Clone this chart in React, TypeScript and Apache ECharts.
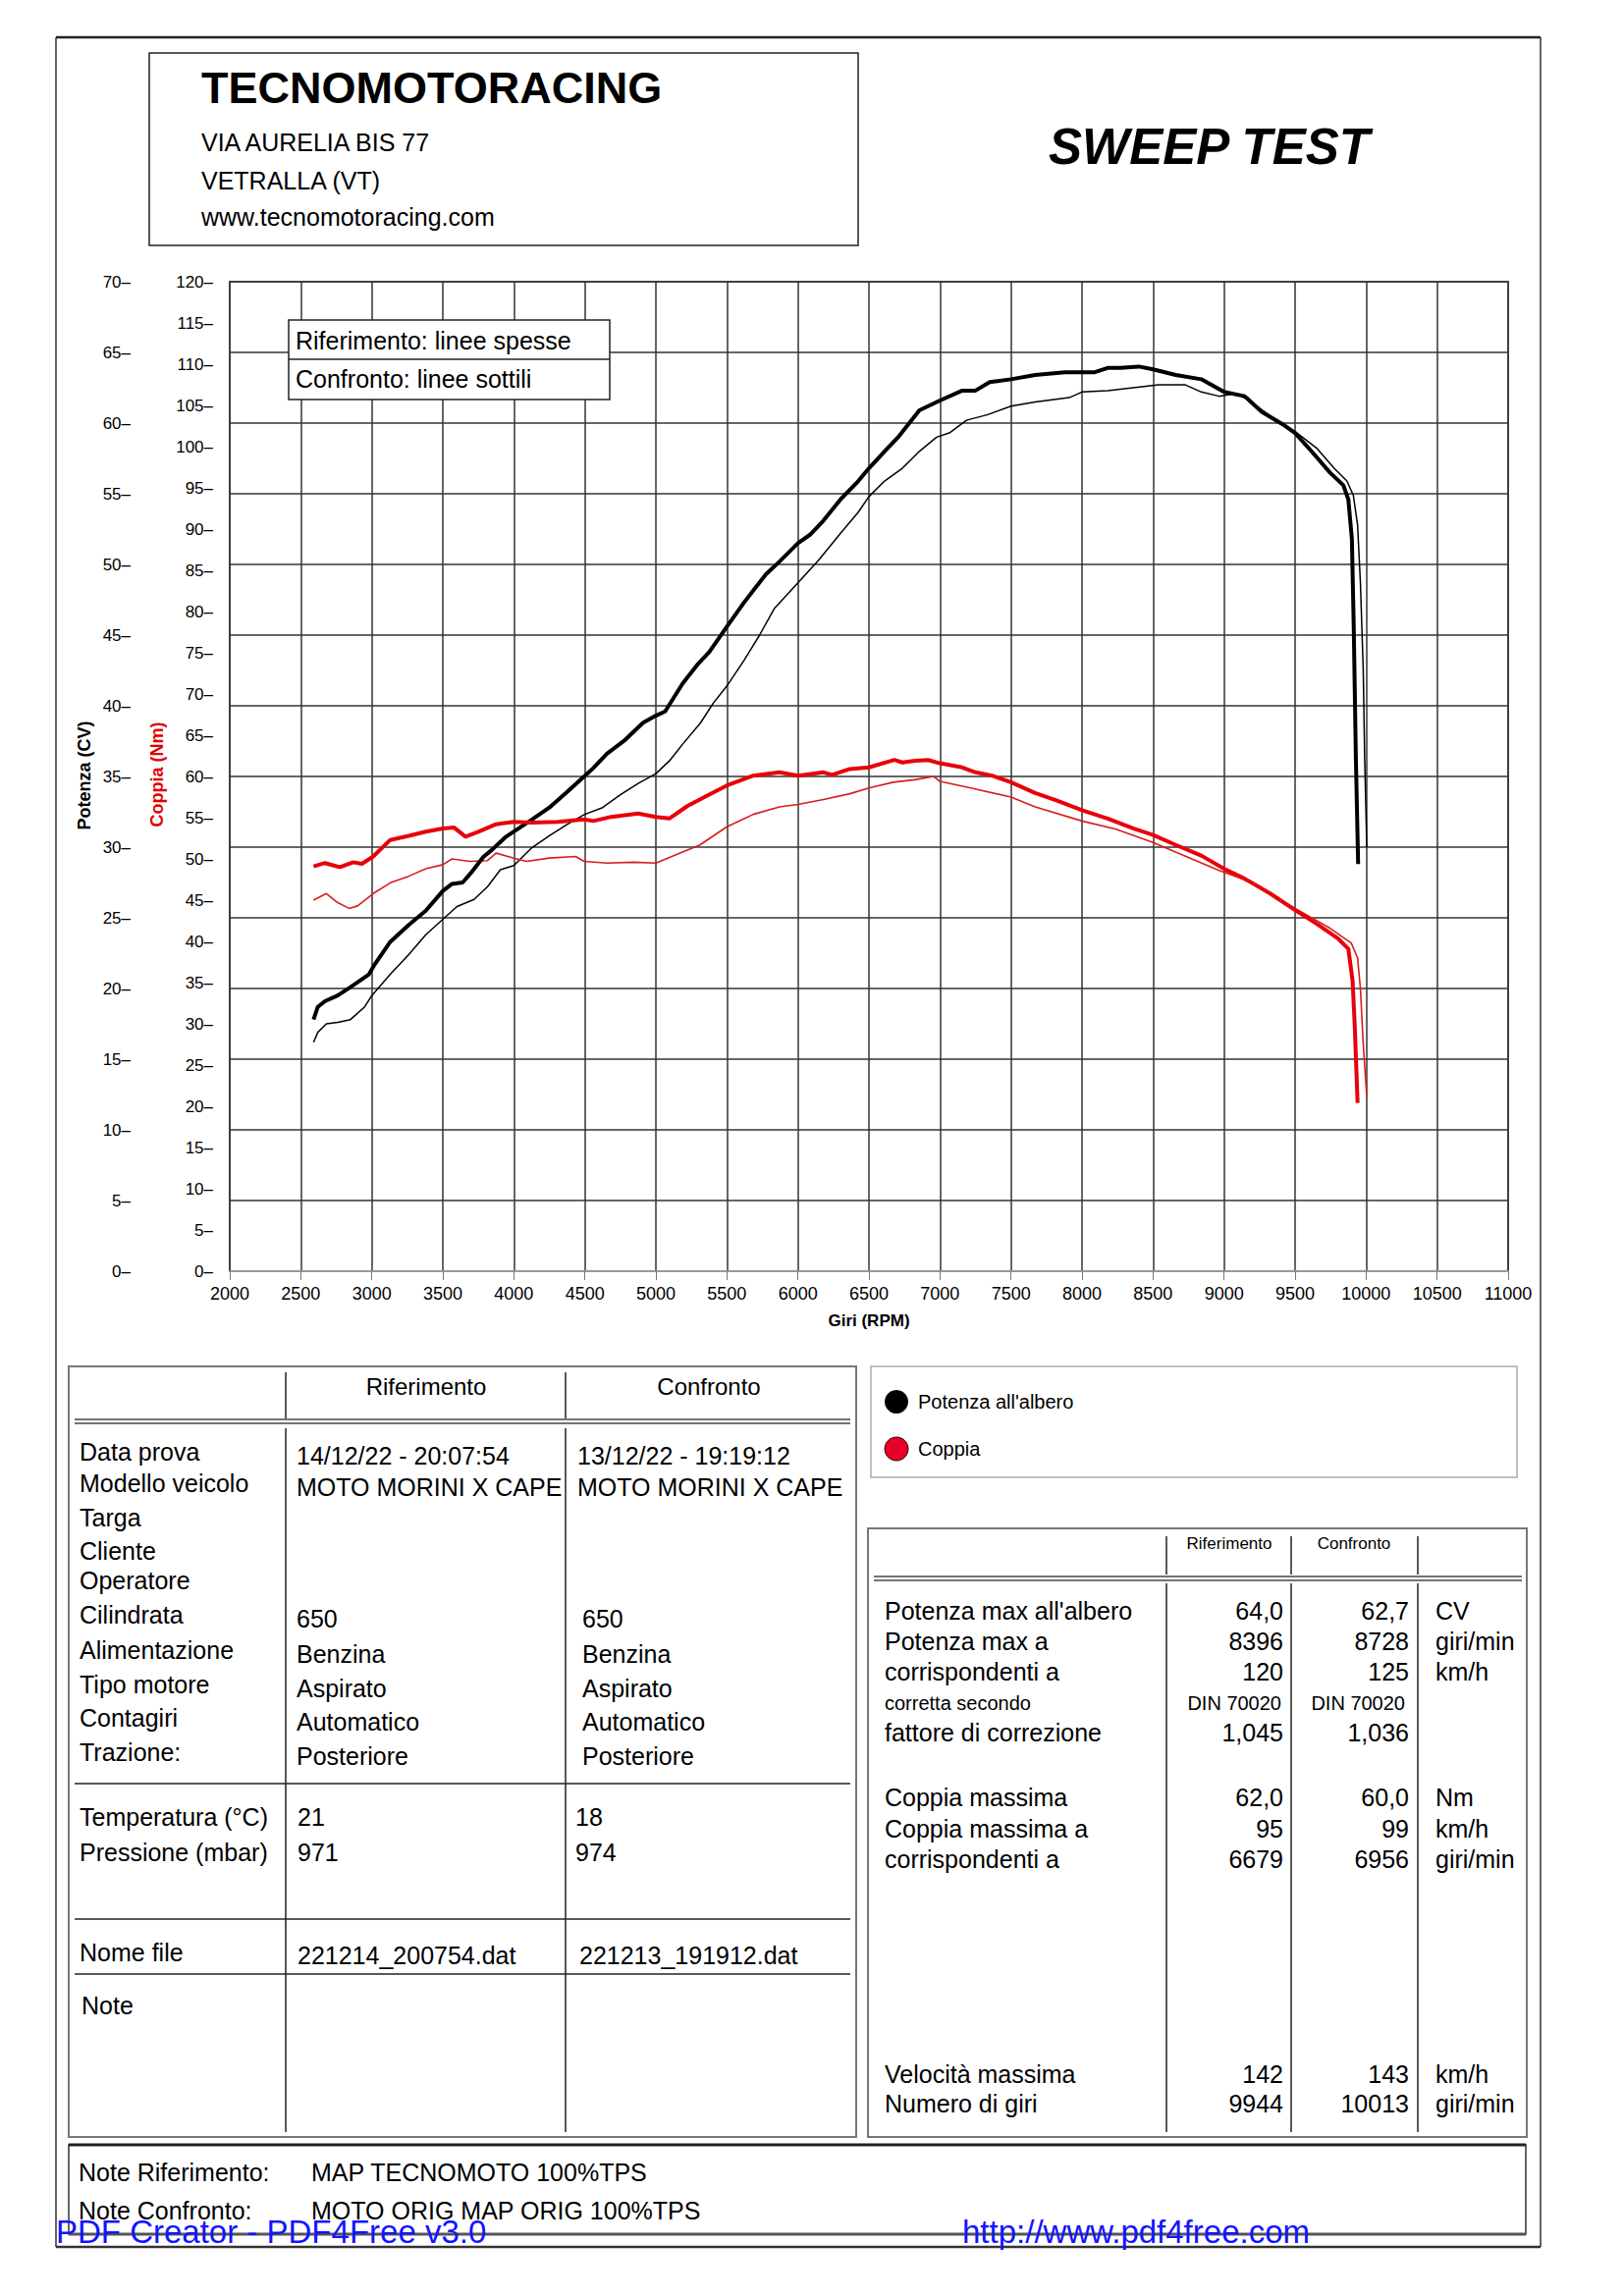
import React, { useEffect, useRef } from "react";
import * as echarts from "echarts";

// ---------- DATA ----------
const refPower: [number, number][] = [
  [2590, 17.8], [2620, 18.7], [2670, 19.1], [2760, 19.5], [2850, 20.1], [2980, 21.0], [3020, 21.7],
  [3130, 23.3], [3260, 24.5], [3380, 25.5], [3500, 26.9], [3565, 27.4], [3640, 27.5], [3700, 28.2],
  [3785, 29.3], [3845, 29.8], [3940, 30.7], [4000, 31.1], [4120, 31.9], [4250, 32.8], [4375, 33.9],
  [4495, 35.0], [4560, 35.6], [4655, 36.6], [4785, 37.6], [4910, 38.8], [5000, 39.3], [5065, 39.6],
  [5190, 41.6], [5300, 43.0], [5375, 43.8], [5500, 45.6], [5620, 47.3], [5775, 49.3], [5870, 50.2],
  [6000, 51.5], [6085, 52.1], [6180, 53.1], [6300, 54.6], [6425, 55.9], [6500, 56.8], [6610, 58.0],
  [6705, 59.0], [6855, 60.9], [7000, 61.6], [7157, 62.3], [7250, 62.3], [7350, 62.9], [7500, 63.1],
  [7670, 63.4], [7880, 63.6], [8000, 63.6], [8090, 63.6], [8180, 63.9], [8270, 63.9], [8400, 64.0],
  [8500, 63.8], [8660, 63.4], [8840, 63.1], [9000, 62.2], [9145, 61.9], [9265, 60.8], [9415, 59.9],
  [9500, 59.3], [9625, 57.9], [9745, 56.5], [9840, 55.6], [9875, 54.6], [9900, 51.8], [9913, 45.6],
  [9928, 36.3], [9944, 28.8],
];

const cmpPower: [number, number][] = [
  [2590, 16.2], [2620, 16.9], [2680, 17.5], [2760, 17.6], [2850, 17.8], [2950, 18.7], [3000, 19.5],
  [3130, 21.0], [3260, 22.4], [3380, 23.8], [3500, 24.9], [3600, 25.8], [3720, 26.3], [3815, 27.2],
  [3905, 28.4], [4000, 28.7], [4120, 29.9], [4250, 30.8], [4375, 31.6], [4495, 32.3], [4625, 32.8],
  [4750, 33.7], [4875, 34.5], [5000, 35.2], [5095, 36.1], [5190, 37.3], [5315, 38.8], [5405, 40.2],
  [5500, 41.4], [5620, 43.2], [5730, 45.0], [5835, 46.9], [6000, 48.7], [6145, 50.3], [6300, 52.2],
  [6425, 53.7], [6500, 54.8], [6610, 55.9], [6735, 56.8], [6855, 58.0], [6976, 59.0], [7066, 59.3],
  [7187, 60.2], [7337, 60.6], [7500, 61.2], [7670, 61.5], [7910, 61.8], [8000, 62.2], [8180, 62.3],
  [8360, 62.5], [8540, 62.7], [8728, 62.7], [8840, 62.2], [8965, 61.9], [9085, 62.1], [9175, 61.6],
  [9325, 60.5], [9500, 59.4], [9655, 58.2], [9775, 56.8], [9865, 55.9], [9910, 54.9], [9940, 52.8],
  [9960, 48.7], [9980, 42.5], [9990, 36.3], [10005, 30.0],
];

const refTorque: [number, number][] = [
  [2590, 49.1], [2670, 49.5], [2775, 49.0], [2870, 49.6], [2930, 49.4], [3010, 50.3], [3130, 52.3],
  [3260, 52.8], [3380, 53.3], [3500, 53.7], [3580, 53.8], [3660, 52.7], [3750, 53.3], [3875, 54.2],
  [4000, 54.5], [4120, 54.4], [4310, 54.5], [4495, 54.8], [4560, 54.6], [4685, 55.1], [4875, 55.5],
  [5000, 55.1], [5095, 54.9], [5220, 56.4], [5375, 57.8], [5500, 58.9], [5685, 60.1], [5870, 60.5],
  [6000, 60.1], [6180, 60.5], [6240, 60.2], [6365, 60.9], [6500, 61.1], [6679, 62.0], [6735, 61.7],
  [6825, 61.9], [6916, 62.0], [7000, 61.6], [7157, 61.1], [7250, 60.5], [7367, 60.1], [7500, 59.3],
  [7670, 58.0], [7820, 57.1], [8000, 55.9], [8180, 54.9], [8360, 53.7], [8500, 52.9], [8660, 51.7],
  [8840, 50.4], [9000, 48.8], [9145, 47.6], [9325, 45.8], [9500, 43.8], [9655, 42.1], [9805, 40.3],
  [9875, 39.1], [9905, 35.2], [9920, 29.8], [9940, 20.4],
];

const cmpTorque: [number, number][] = [
  [2590, 45.0], [2680, 45.8], [2760, 44.7], [2840, 44.0], [2900, 44.3], [3010, 45.8], [3130, 47.1],
  [3260, 47.9], [3380, 48.8], [3500, 49.3], [3565, 50.0], [3690, 49.7], [3815, 49.8], [3875, 50.7],
  [4000, 50.1], [4090, 49.7], [4250, 50.1], [4435, 50.3], [4495, 49.7], [4655, 49.5], [4845, 49.6],
  [5000, 49.5], [5125, 50.4], [5310, 51.7], [5500, 53.9], [5685, 55.4], [5870, 56.3], [6000, 56.6],
  [6180, 57.2], [6365, 57.9], [6500, 58.6], [6670, 59.3], [6820, 59.6], [6956, 60.0], [7000, 59.4],
  [7217, 58.6], [7500, 57.5], [7670, 56.3], [8000, 54.6], [8240, 53.6], [8500, 52.0], [8720, 50.4],
  [8965, 48.6], [9175, 47.3], [9500, 44.0], [9745, 41.6], [9895, 39.8], [9940, 38.0], [9960, 34.3],
  [9980, 27.5], [10005, 21.1],
];

const headerLines = ["VIA AURELIA BIS 77", "VETRALLA (VT)", "www.tecnomotoracing.com"];
const infoLabels = ["Data prova", "Modello veicolo", "Targa", "Cliente", "Operatore", "Cilindrata",
  "Alimentazione", "Tipo motore", "Contagiri", "Trazione:"];
const infoRef = ["14/12/22 - 20:07:54", "MOTO MORINI X CAPE", "", "", "", "650", "Benzina", "Aspirato",
  "Automatico", "Posteriore"];
const infoCmp = ["13/12/22 - 19:19:12", "MOTO MORINI X CAPE", "", "", "", "650", "Benzina", "Aspirato",
  "Automatico", "Posteriore"];
const envLabels = ["Temperatura (°C)", "Pressione (mbar)"];
const envRef = ["21", "971"];
const envCmp = ["18", "974"];
const fileNames = ["221214_200754.dat", "221213_191912.dat"];

const resLabels = ["Potenza max all'albero", "Potenza max a", "corrispondenti a", "corretta secondo",
  "fattore di correzione", "Coppia massima", "Coppia massima a", "corrispondenti a",
  "Velocità massima", "Numero di giri"];
const resRef = ["64,0", "8396", "120", "DIN 70020", "1,045", "62,0", "95", "6679", "142", "9944"];
const resCmp = ["62,7", "8728", "125", "DIN 70020", "1,036", "60,0", "99", "6956", "143", "10013"];
const resUnit = ["CV", "giri/min", "km/h", "", "", "Nm", "km/h", "giri/min", "km/h", "giri/min"];
const notes = [["Note Riferimento:", "MAP TECNOMOTO 100%TPS"], ["Note Confronto:", "MOTO ORIG MAP ORIG 100%TPS"]];

// ---------- LAYOUT HELPERS ----------
const F = "'Liberation Sans', Arial, Helvetica, sans-serif";

function txt(x: number, y: number, text: string, size: number, o: any = {}) {
  const align = o.align || "left";
  return {
    type: "text", x, y, z: 60, silent: true, rotation: o.rotation || 0,
    style: {
      text, fontSize: size, fontFamily: o.family || F, fontWeight: o.weight || "normal",
      fontStyle: o.fstyle || "normal", fill: o.color || "#000",
      align, textAlign: align, verticalAlign: "middle", textVerticalAlign: "middle",
    },
  };
}
function ln(x1: number, y1: number, x2: number, y2: number, w = 1.5, c = "#222") {
  return { type: "line", z: 55, silent: true, shape: { x1, y1, x2, y2 }, style: { stroke: c, lineWidth: w } };
}
function rc(x: number, y: number, w: number, h: number, lw = 1.5, c = "#222", fill = "none", z = 50) {
  return { type: "rect", z, silent: true, shape: { x, y, width: w, height: h }, style: { stroke: c, lineWidth: lw, fill } };
}

function buildGraphics() {
  const g: any[] = [];
  // page frame
  g.push(ln(57, 38, 1569, 38, 2.5, "#222"));
  g.push(ln(57, 38, 57, 2289, 1.5, "#333"));
  g.push(ln(1569, 38, 1569, 2289, 1.5, "#333"));
  g.push(ln(57, 2289, 1569, 2289, 2.5, "#333"));

  // header
  g.push(rc(152, 54, 722, 196, 1.5, "#222"));
  g.push(txt(205, 89, "TECNOMOTORACING", 45, { weight: "bold" }));
  const hy = [145, 184, 221];
  headerLines.forEach((t, i) => g.push(txt(205, hy[i], t, 25)));
  g.push(txt(1068, 149, "SWEEP TEST", 51, { weight: "bold", fstyle: "italic" }));

  // axis names
  g.push(txt(86, 790, "Potenza (CV)", 18, { weight: "bold", align: "center", rotation: Math.PI / 2 }));
  g.push(txt(160, 789, "Coppia (Nm)", 18, { weight: "bold", align: "center", rotation: Math.PI / 2, color: "#e00000" }));

  // in-plot legend box
  g.push(rc(294, 326, 327, 81, 1.5, "#222", "#fff", 70));
  g.push({ ...ln(294, 366, 621, 366, 1.5, "#222"), z: 71 });
  g.push({ ...txt(301, 347, "Riferimento: linee spesse", 25), z: 72 });
  g.push({ ...txt(301, 386, "Confronto: linee sottili", 25), z: 72 });

  // left info table
  g.push(rc(70, 1392, 802, 785, 2, "#777"));
  [291, 576].forEach((x) => {
    g.push(ln(x, 1398, x, 1445, 1.5, "#222"));
    g.push(ln(x, 1455, x, 2172, 1.5, "#222"));
  });
  g.push(ln(76, 1446, 866, 1446, 1.5, "#444"));
  g.push(ln(76, 1450, 866, 1450, 1.5, "#444"));
  [1817, 1955, 2011].forEach((y) => g.push(ln(76, y, 866, y, 1.5, "#222")));
  g.push(txt(434, 1412, "Riferimento", 24, { align: "center" }));
  g.push(txt(722, 1412, "Confronto", 24, { align: "center" }));
  const infoY = [1479, 1511, 1546, 1580, 1610, 1645, 1681, 1716, 1750, 1785];
  infoLabels.forEach((t, i) => {
    g.push(txt(81, infoY[i], t, 25));
    if (infoRef[i]) g.push(txt(302, infoY[i] + 4, infoRef[i], 25));
    if (infoCmp[i]) g.push(txt(i < 2 ? 588 : 593, infoY[i] + 4, infoCmp[i], 25));
  });
  const envY = [1851, 1887];
  envLabels.forEach((t, i) => {
    g.push(txt(81, envY[i], t, 25));
    g.push(txt(303, envY[i], envRef[i], 25));
    g.push(txt(586, envY[i], envCmp[i], 25));
  });
  g.push(txt(81, 1989, "Nome file", 25));
  g.push(txt(303, 1992, fileNames[0], 25));
  g.push(txt(590, 1992, fileNames[1], 25));
  g.push(txt(83, 2043, "Note", 25));

  // right legend box
  g.push(rc(887, 1392, 658, 113, 1.5, "#aaa"));
  g.push({ type: "circle", z: 60, silent: true, shape: { cx: 913, cy: 1428, r: 12 }, style: { fill: "#000" } });
  g.push({ type: "circle", z: 60, silent: true, shape: { cx: 913, cy: 1476, r: 12 }, style: { fill: "#e8002a", stroke: "#300", lineWidth: 1 } });
  g.push(txt(935, 1428, "Potenza all'albero", 20));
  g.push(txt(935, 1476, "Coppia", 20));

  // right results table
  g.push(rc(884, 1557, 671, 620, 2, "#777"));
  [1188, 1315, 1444].forEach((x) => {
    g.push(ln(x, 1565, x, 1604, 1.5, "#222"));
    g.push(ln(x, 1613, x, 2172, 1.5, "#222"));
  });
  g.push(ln(890, 1606, 1550, 1606, 1.5, "#444"));
  g.push(ln(890, 1610, 1550, 1610, 1.5, "#444"));
  g.push(txt(1252, 1572, "Riferimento", 17, { align: "center" }));
  g.push(txt(1379, 1572, "Confronto", 17, { align: "center" }));
  const resY = [1641, 1672, 1703, 1735, 1765, 1831, 1863, 1894, 2113, 2143];
  resLabels.forEach((t, i) => {
    const small = i === 3;
    g.push(txt(901, resY[i], t, small ? 20 : 25));
    g.push(txt(small ? 1305 : 1307, resY[i], resRef[i], small ? 20 : 25, { align: "right" }));
    g.push(txt(small ? 1431 : 1435, resY[i], resCmp[i], small ? 20 : 25, { align: "right" }));
    if (resUnit[i]) g.push(txt(1462, resY[i], resUnit[i], 25));
  });

  // notes box
  g.push(rc(70, 2185, 1484, 91, 1.5, "#333"));
  g.push(ln(70, 2185, 1554, 2185, 3, "#222"));
  g.push(ln(70, 2276, 1554, 2276, 3, "#555"));
  const noteY = [2213, 2252];
  notes.forEach((n, i) => {
    g.push(txt(80, noteY[i], n[0], 25));
    g.push(txt(317, noteY[i], n[1], 25));
  });

  // watermark (overlaps the notes box, as in the source document)
  g.push({ ...txt(57, 2273, "PDF Creator - PDF4Free v3.0", 33, { color: "#1414ff" }), z: 90 });
  g.push({ ...txt(980, 2273, "http://www.pdf4free.com", 33, { color: "#1414ff" }), z: 90 });
  return g;
}

export default function App() {
  const ref = useRef<HTMLDivElement>(null);
  useEffect(() => {
    if (!ref.current) return;
    const chart = echarts.init(ref.current, undefined, { renderer: "svg" });
    const tickLabel = (v: number) => `${v}–`;
    chart.setOption({
      animation: false,
      backgroundColor: "#fff",
      grid: {
        left: 234, top: 287, width: 1302, height: 1008, containLabel: false, outerBoundsMode: "none",
        show: true, borderColor: "#666", borderWidth: 2, backgroundColor: "transparent",
      },
      xAxis: {
        type: "value", min: 2000, max: 11000, interval: 500,
        name: "Giri (RPM)", nameLocation: "middle", nameGap: 42,
        nameTextStyle: { fontFamily: F, fontWeight: "bold", fontSize: 17, color: "#000" },
        axisLine: { show: true, lineStyle: { color: "#999", width: 2 } },
        axisTick: { show: true, length: 9, lineStyle: { color: "#777", width: 1 } },
        axisLabel: { margin: 14, fontFamily: F, fontSize: 18, color: "#000", formatter: (v: number) => String(v) },
        splitLine: { show: true, lineStyle: { color: "#333", width: 1.5 } },
      },
      yAxis: [
        {
          type: "value", min: 0, max: 70, interval: 5, position: "left", offset: 95,
          axisLine: { show: false }, axisTick: { show: false },
          axisLabel: { formatter: tickLabel, margin: 6, fontFamily: F, fontSize: 17, color: "#000" },
          splitLine: { show: true, lineStyle: { color: "#333", width: 1.5 } },
        },
        {
          type: "value", min: 0, max: 120, interval: 5, position: "left", offset: 0,
          axisLine: { show: false }, axisTick: { show: false },
          axisLabel: { formatter: tickLabel, margin: 17, fontFamily: F, fontSize: 17, color: "#000" },
          splitLine: { show: false },
        },
      ],
      series: [
        { name: "Potenza confronto", type: "line", yAxisIndex: 0, data: cmpPower, showSymbol: false, z: 5,
          lineStyle: { color: "#000", width: 1.5 }, silent: true },
        { name: "Coppia confronto", type: "line", yAxisIndex: 1, data: cmpTorque, showSymbol: false, z: 5,
          lineStyle: { color: "#d61e1e", width: 1.6 }, silent: true },
        { name: "Potenza riferimento", type: "line", yAxisIndex: 0, data: refPower, showSymbol: false, z: 6,
          lineStyle: { color: "#000", width: 4 }, silent: true },
        { name: "Coppia riferimento", type: "line", yAxisIndex: 1, data: refTorque, showSymbol: false, z: 6,
          lineStyle: { color: "#e8000b", width: 4 }, silent: true },
      ],
      graphic: { elements: buildGraphics() },
    });
    return () => chart.dispose();
  }, []);
  return (
    <div style={{ position: "absolute", left: 0, top: 0, width: 1654, height: 2339, background: "#fff" }}>
      <div ref={ref} style={{ width: 1654, height: 2339 }} />
    </div>
  );
}
